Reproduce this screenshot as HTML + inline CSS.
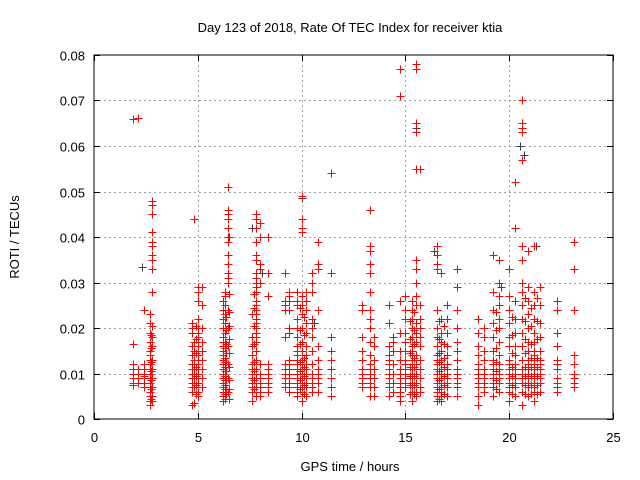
<!DOCTYPE html>
<html><head><meta charset="utf-8">
<style>
body{margin:0;background:#fff;}
svg{display:block;font-family:"Liberation Sans",sans-serif;}
</style></head>
<body>
<svg id="chart" width="640" height="480" viewBox="0 0 640 480">
<rect width="640" height="480" fill="#fff"/>
<text x="350" y="32" text-anchor="middle" font-size="13" fill="#000">Day 123 of 2018, Rate Of TEC Index for receiver ktia</text>
<text x="350" y="471" text-anchor="middle" font-size="13" fill="#000">GPS time / hours</text>
<text x="19" y="237" text-anchor="middle" font-size="13" fill="#000" transform="rotate(-90 19 237)">ROTI / TECUs</text>
<g id="grid"></g>
<g id="ticks"></g>
<g id="dark"></g>
<g id="red"></g>
<rect x="94" y="55" width="519" height="364" fill="none" stroke="#000" stroke-width="1"/>
</svg>
<script>
const xTicks=[0,5,10,15,20,25];
const yTicks=[0,0.01,0.02,0.03,0.04,0.05,0.06,0.07,0.08];
const yTickLabels=["0","0.01","0.02","0.03","0.04","0.05","0.06","0.07","0.08"];
const colHours=[1.9,2.1,2.4,2.7,2.8,4.7,4.8,5.0,5.2,6.2,6.3,6.45,7.6,7.8,8.0,8.4,9.2,9.4,9.8,10.0,10.2,10.5,10.8,11.4,12.9,13.3,13.5,14.2,14.4,14.75,15.0,15.3,15.5,15.7,16.5,16.7,17.0,17.5,18.5,18.8,19.2,19.5,20.0,20.3,20.6,20.9,21.2,21.5,22.3,23.1,
 2.75,4.9,6.35,6.5,7.7,9.9,10.1,15.2,15.4,16.6,16.85,19.35,20.15,20.75,21.05,21.35];
const colValues=[
[0.066,0.0165,0.012,0.011,0.010,0.009,0.008,0.0075],
[0.0662,0.011,0.010,0.009,0.008],
[0.024,0.012,0.011,0.010,0.009,0.008,0.007,0.0095],
[0.023,0.021,0.019,0.017,0.015,0.014,0.013,0.012,0.011,0.010,0.009,0.008,0.007,0.006,0.005,0.004,0.003],
[0.048,0.047,0.045,0.041,0.039,0.038,0.036,0.035,0.033,0.028,0.0205,0.018,0.016,0.013,0.011,0.009,0.007,0.005,0.004],
[0.021,0.020,0.019,0.016,0.014,0.012,0.011,0.010,0.009,0.008,0.007,0.006,0.003],
[0.044,0.017,0.015,0.013,0.012,0.011,0.010,0.009,0.008,0.007,0.0035],
[0.029,0.028,0.026,0.022,0.020,0.019,0.018,0.016,0.014,0.013,0.012,0.011,0.010,0.009,0.008,0.006,0.005],
[0.029,0.025,0.020,0.017,0.015,0.013,0.011,0.009,0.007],
[0.026,0.024,0.022,0.020,0.018,0.017,0.016,0.015,0.014,0.013,0.012,0.011,0.010,0.009,0.008,0.007,0.006,0.005,0.004],
[0.028,0.027,0.025,0.023,0.021,0.019,0.017,0.0155,0.0135,0.0125,0.0115,0.0105,0.0095,0.0085,0.0075,0.0065,0.0055,0.0045],
[0.051,0.046,0.045,0.044,0.042,0.040,0.039,0.036,0.034,0.032,0.031,0.030,0.024,0.020,0.016,0.012,0.009,0.006],
[0.023,0.018,0.016,0.014,0.012,0.011,0.010,0.009,0.008,0.007,0.006,0.004],
[0.045,0.044,0.042,0.039,0.036,0.035,0.032,0.031,0.030,0.029,0.028,0.026,0.025,0.024,0.023,0.022,0.021,0.020,0.019,0.018,0.017,0.015,0.013,0.011,0.009,0.007,0.005],
[0.043,0.040,0.034,0.033,0.030,0.012,0.010,0.009,0.008,0.007,0.006,0.005],
[0.040,0.032,0.027,0.012,0.011,0.010,0.009,0.008,0.007,0.006],
[0.032,0.026,0.025,0.024,0.018,0.012,0.011,0.010,0.009,0.008,0.007],
[0.028,0.027,0.026,0.024,0.020,0.019,0.013,0.012,0.011,0.010,0.009,0.008,0.007,0.006],
[0.028,0.026,0.025,0.022,0.020,0.018,0.016,0.015,0.014,0.013,0.012,0.011,0.010,0.009,0.008,0.007,0.006,0.005],
[0.049,0.044,0.042,0.041,0.027,0.025,0.023,0.020,0.017,0.015,0.013,0.012,0.011,0.010,0.009,0.008,0.007,0.006,0.004],
[0.028,0.026,0.024,0.021,0.019,0.016,0.014,0.012,0.011,0.010,0.009,0.008,0.007,0.005],
[0.032,0.030,0.028,0.022,0.020,0.018,0.015,0.012,0.010,0.009,0.008,0.007,0.006],
[0.039,0.034,0.033,0.024,0.016,0.013,0.011,0.010,0.009,0.008,0.006],
[0.054,0.032,0.018,0.015,0.013,0.011,0.009,0.007,0.005],
[0.025,0.024,0.018,0.015,0.013,0.011,0.010,0.009,0.008,0.007],
[0.046,0.038,0.037,0.034,0.032,0.028,0.024,0.022,0.020,0.017,0.014,0.012,0.011,0.010,0.009,0.008,0.007,0.005],
[0.018,0.016,0.013,0.011,0.009,0.007,0.005],
[0.025,0.021,0.016,0.014,0.013,0.012,0.011,0.010,0.009,0.008,0.007,0.005],
[0.018,0.017,0.015,0.012,0.010,0.008,0.006],
[0.077,0.071,0.026,0.019,0.015,0.013,0.011,0.010,0.009,0.008,0.007,0.006,0.005,0.004],
[0.027,0.024,0.022,0.019,0.017,0.015,0.013,0.012,0.011,0.010,0.009,0.008,0.007],
[0.026,0.024,0.022,0.020,0.018,0.016,0.015,0.014,0.013,0.012,0.011,0.010,0.009,0.008,0.007,0.006,0.004],
[0.078,0.077,0.065,0.063,0.055,0.035,0.033,0.030,0.027,0.025,0.021,0.019,0.017,0.014,0.012,0.010,0.008,0.006,0.005],
[0.055,0.025,0.022,0.020,0.018,0.016,0.013,0.011,0.009,0.007,0.006],
[0.038,0.036,0.034,0.033,0.024,0.020,0.018,0.016,0.014,0.013,0.012,0.011,0.010,0.009,0.008,0.007,0.006,0.005,0.004],
[0.032,0.022,0.019,0.017,0.015,0.013,0.012,0.011,0.010,0.009,0.008,0.007,0.006,0.005,0.004],
[0.025,0.022,0.019,0.016,0.014,0.012,0.011,0.010,0.009,0.008,0.007,0.005],
[0.033,0.029,0.024,0.020,0.017,0.015,0.013,0.011,0.010,0.009,0.008,0.007,0.005],
[0.022,0.019,0.016,0.014,0.012,0.011,0.010,0.009,0.008,0.007,0.005,0.003],
[0.020,0.018,0.015,0.013,0.011,0.010,0.009,0.008,0.007,0.006],
[0.036,0.028,0.024,0.021,0.018,0.015,0.013,0.012,0.011,0.010,0.009,0.008,0.007,0.005],
[0.035,0.030,0.027,0.025,0.022,0.020,0.017,0.014,0.012,0.011,0.010,0.009,0.008,0.006],
[0.033,0.027,0.024,0.021,0.018,0.016,0.013,0.012,0.011,0.010,0.009,0.008,0.007,0.006,0.004],
[0.052,0.042,0.026,0.022,0.019,0.016,0.014,0.012,0.011,0.010,0.009,0.008,0.007,0.005],
[0.070,0.065,0.064,0.063,0.057,0.038,0.035,0.030,0.028,0.025,0.022,0.019,0.016,0.013,0.011,0.010,0.009,0.008,0.006,0.003],
[0.037,0.029,0.026,0.023,0.020,0.017,0.015,0.013,0.012,0.011,0.010,0.009,0.008,0.007,0.005],
[0.038,0.028,0.025,0.022,0.019,0.017,0.015,0.014,0.013,0.012,0.011,0.010,0.009,0.008,0.007,0.006,0.004],
[0.029,0.025,0.021,0.018,0.015,0.013,0.012,0.011,0.010,0.009,0.008,0.006],
[0.026,0.024,0.019,0.016,0.013,0.012,0.011,0.009,0.008,0.007,0.006],
[0.039,0.033,0.024,0.014,0.012,0.010,0.009,0.008,0.007],
[0.0185,0.0155,0.0125,0.0105,0.0085,0.0065,0.0045],
[0.0205,0.0175,0.0145,0.0115,0.0095,0.0075,0.0055],
[0.0225,0.0195,0.0165,0.0145,0.0125,0.0105,0.0085,0.0065,0.0055],
[0.0275,0.0235,0.0205,0.0175,0.0145,0.0115,0.0085,0.0065,0.0045],
[0.0275,0.0245,0.0205,0.0165,0.0125,0.0105,0.0085,0.0065],
[0.0245,0.0195,0.0165,0.0125,0.0105,0.0085,0.0065],
[0.0225,0.0185,0.0135,0.0115,0.0095,0.0075,0.0055],
[0.0215,0.0175,0.0145,0.0115,0.0095,0.0075,0.0055],
[0.0235,0.0195,0.0165,0.0135,0.0115,0.0095,0.0075,0.0055],
[0.0215,0.0175,0.0145,0.0125,0.0105,0.0085,0.0065,0.0045],
[0.0205,0.0165,0.0135,0.0115,0.0095,0.0075,0.0055],
[0.0235,0.0195,0.0155,0.0125,0.0105,0.0085,0.0065],
[0.0225,0.0185,0.0145,0.0115,0.0095,0.0075,0.0055],
[0.0265,0.0215,0.0175,0.0145,0.0115,0.0095,0.0075,0.0055],
[0.0245,0.0205,0.0165,0.0135,0.0115,0.0095,0.0075,0.0055],
[0.0265,0.0215,0.0175,0.0135,0.0115,0.0095,0.0075,0.0055]
];
const darkHours=[2.3,2.4,15.5,20.5,20.7,21.3,10.0,10.0,23.1,8.4,8.1,16.4,11.4,15.5,23.1,7.6,10.6,6.5,19.6];
const darkValues=[0.0335,0.024,0.055,0.060,0.058,0.038,0.0485,0.044,0.039,0.040,0.032,0.037,0.018,0.064,0.024,0.042,0.021,0.040,0.029];

const X0=94,X1=613,Y0=419,Y1=55;
const xs=h=>X0+(h/25)*(X1-X0);
const ys=v=>Y0-(v/0.08)*(Y0-Y1);
const NS='http://www.w3.org/2000/svg';
const grid=document.getElementById('grid'),ticks=document.getElementById('ticks');
function line(p,x1,y1,x2,y2,st,dash){const l=document.createElementNS(NS,'line');l.setAttribute('x1',x1);l.setAttribute('y1',y1);l.setAttribute('x2',x2);l.setAttribute('y2',y2);l.setAttribute('stroke',st);if(dash)l.setAttribute('stroke-dasharray',dash);p.appendChild(l);return l;}
function txt(p,x,y,s,anchor){const t=document.createElementNS(NS,'text');t.setAttribute('x',x);t.setAttribute('y',y);t.setAttribute('font-size','13');t.setAttribute('text-anchor',anchor);t.textContent=s;p.appendChild(t);return t;}
xTicks.forEach((t,i)=>{const x=Math.round(xs(t))+0.5;
 if(i>0&&i<xTicks.length-1){const g=line(grid,x,Y1,x,Y0,'#a0a0a0','2,3');
 
 }
 line(ticks,x,Y0,x,Y0-6,'#000');line(ticks,x,Y1,x,Y1+6,'#000');
 const l=txt(ticks,x,442,String(t),'middle');
 
 
});
yTicks.forEach((t,i)=>{const y=Math.round(ys(t))+0.5;
 if(i>0&&i<yTicks.length-1){const g=line(grid,X0,y,X1,y,'#a0a0a0','2,3');
 
 }
 line(ticks,X0,y,X0+6,y,'#000');line(ticks,X1,y,X1-6,y,'#000');
 const l=txt(ticks,85,y+5,yTickLabels[i],'end');
 
 
});
function plus(p,h,v,col){const x=Math.round(xs(h))+0.5,y=Math.round(ys(v))+0.5;
 const pa=document.createElementNS(NS,'path');
 pa.setAttribute('d',`M${x-4} ${y}H${x+4}M${x} ${y-4}V${y+4}`);
 pa.setAttribute('stroke',col);pa.setAttribute('stroke-width','1');
 
 
 p.appendChild(pa);}
const dark=document.getElementById('dark'),red=document.getElementById('red');
darkHours.forEach((h,i)=>plus(dark,h,darkValues[i],'#404040'));
colHours.forEach((h,i)=>colValues[i].forEach(v=>plus(red,h,v,'#ff0000')));
</script>
</body></html>
